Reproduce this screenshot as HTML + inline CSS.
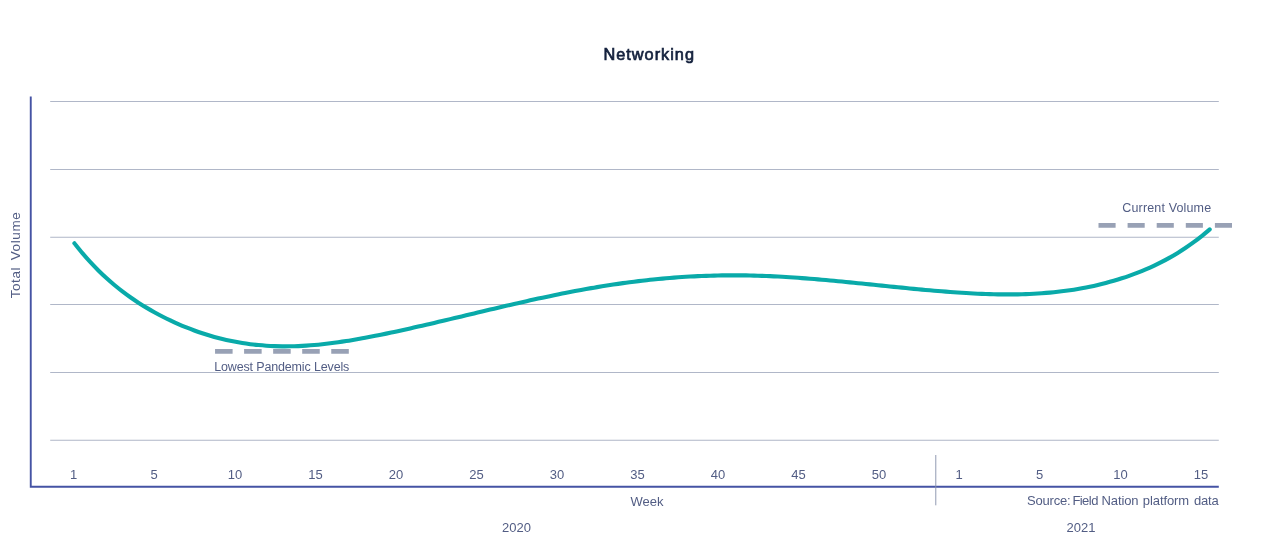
<!DOCTYPE html>
<html lang="en"><head><meta charset="utf-8"><title>Networking</title>
<style>
html,body{margin:0;padding:0;background:#fff;}
body{width:1267px;height:553px;overflow:hidden;}
svg{display:block;}
text{font-family:"Liberation Sans",sans-serif;fill:#525d84;font-size:13px;}
.t{text-anchor:middle;}
</style></head><body>
<svg width="1267" height="553" viewBox="0 0 1267 553">
<rect width="1267" height="553" fill="#fff"/>
<g fill="#b0b7c8"><rect x="50.2" y="101" width="1168.6" height="1"/><rect x="50.2" y="169" width="1168.6" height="1"/><rect x="50.2" y="236.75" width="1168.6" height="1"/><rect x="50.2" y="304" width="1168.6" height="1"/><rect x="50.2" y="372" width="1168.6" height="1"/><rect x="50.2" y="439.75" width="1168.6" height="1"/></g>
<path d="M29.8,96.5h1.9v389.3h1187.1v1.95h-1189z" fill="#4553a4"/>
<rect x="935" y="455" width="1.4" height="50.3" fill="#8590aa" fill-opacity="0.65"/>
<text x="603.5" y="60" style="font-size:16.3px;fill:#14213d;stroke:#14213d;stroke-width:0.7px;letter-spacing:1px">Networking</text>
<text transform="translate(19.7,255) rotate(-90)" class="t" style="font-size:13.5px;letter-spacing:0.6px;word-spacing:2.2px">Total Volume</text>
<g class="t"><text x="73.7" y="479">1</text><text x="154.2" y="479">5</text><text x="235.0" y="479">10</text><text x="315.5" y="479">15</text><text x="396.0" y="479">20</text><text x="476.5" y="479">25</text><text x="557.0" y="479">30</text><text x="637.5" y="479">35</text><text x="718.0" y="479">40</text><text x="798.5" y="479">45</text><text x="879.0" y="479">50</text><text x="959.2" y="479">1</text><text x="1039.7" y="479">5</text><text x="1120.5" y="479">10</text><text x="1201.0" y="479">15</text></g>
<text x="647" y="506" class="t">Week</text>
<text x="516.5" y="532" class="t">2020</text>
<text x="1081" y="532" class="t">2021</text>
<text y="505" style="letter-spacing:-0.2px"><tspan x="1027">Source: </tspan><tspan x="1072.4" style="letter-spacing:-0.55px">Field </tspan><tspan x="1101.5" style="letter-spacing:-0.1px">Nation </tspan><tspan x="1142.8" style="letter-spacing:-0.08px">platform </tspan><tspan x="1194">data</tspan></text>
<path d="M215.05,351.35H349" stroke="#98a1b5" stroke-width="4.9" stroke-dasharray="17.55 11.5" fill="none"/>
<path d="M1098.5,225.3H1232" stroke="#98a1b5" stroke-width="4.8" stroke-dasharray="17.1 12" fill="none"/>
<text x="214.2" y="371" style="font-size:12.5px;letter-spacing:-0.15px">Lowest Pandemic Levels</text>
<text x="1122.3" y="212.3" style="font-size:12.5px;letter-spacing:0.15px">Current Volume</text>
<path d="M74.40,243.29C75.73,244.93 79.73,249.98 82.40,253.12C85.06,256.27 87.73,259.27 90.39,262.16C93.06,265.05 95.72,267.81 98.39,270.46C101.05,273.11 103.72,275.63 106.38,278.06C109.05,280.49 111.71,282.81 114.38,285.04C117.04,287.26 119.71,289.38 122.37,291.43C125.04,293.47 127.70,295.41 130.37,297.29C133.03,299.16 135.70,300.95 138.36,302.67C141.03,304.39 143.69,306.04 146.36,307.63C149.02,309.22 151.69,310.74 154.35,312.22C157.02,313.69 159.68,315.11 162.35,316.48C165.01,317.85 167.68,319.17 170.34,320.44C173.01,321.71 175.67,322.93 178.34,324.09C181.00,325.26 183.67,326.38 186.33,327.45C189.00,328.52 191.66,329.54 194.33,330.51C196.99,331.48 199.66,332.41 202.32,333.28C204.99,334.16 207.65,334.99 210.32,335.78C212.98,336.56 215.65,337.30 218.31,337.99C220.98,338.68 223.64,339.33 226.31,339.93C228.97,340.53 231.64,341.09 234.30,341.61C236.97,342.12 239.63,342.59 242.30,343.02C244.96,343.45 247.63,343.83 250.29,344.18C252.96,344.52 255.62,344.82 258.29,345.08C260.95,345.34 263.62,345.56 266.28,345.74C268.95,345.92 271.61,346.06 274.28,346.16C276.94,346.26 279.61,346.32 282.27,346.35C284.94,346.38 287.60,346.36 290.27,346.32C292.93,346.27 295.60,346.19 298.26,346.08C300.93,345.97 303.59,345.83 306.26,345.66C308.92,345.48 311.59,345.28 314.25,345.05C316.92,344.82 319.58,344.56 322.25,344.27C324.91,343.99 327.58,343.68 330.24,343.34C332.91,343.01 335.57,342.65 338.24,342.27C340.90,341.90 343.57,341.50 346.23,341.08C348.90,340.66 351.56,340.22 354.23,339.76C356.89,339.31 359.56,338.84 362.22,338.35C364.89,337.86 367.55,337.36 370.22,336.84C372.88,336.33 375.55,335.80 378.21,335.26C380.88,334.73 383.54,334.18 386.21,333.62C388.87,333.06 391.54,332.50 394.20,331.92C396.87,331.35 399.53,330.77 402.20,330.19C404.86,329.60 407.53,329.01 410.19,328.41C412.86,327.81 415.52,327.21 418.19,326.60C420.85,325.99 423.52,325.38 426.18,324.77C428.85,324.15 431.51,323.53 434.18,322.90C436.84,322.28 439.51,321.65 442.17,321.02C444.84,320.40 447.50,319.76 450.17,319.13C452.83,318.50 455.50,317.86 458.16,317.22C460.83,316.59 463.49,315.95 466.16,315.31C468.82,314.68 471.49,314.04 474.15,313.40C476.82,312.77 479.48,312.13 482.15,311.49C484.81,310.86 487.48,310.22 490.14,309.59C492.81,308.96 495.47,308.33 498.14,307.70C500.80,307.08 503.47,306.45 506.13,305.83C508.80,305.21 511.46,304.60 514.13,303.98C516.79,303.37 519.46,302.76 522.12,302.16C524.79,301.56 527.45,300.96 530.12,300.37C532.78,299.78 535.45,299.19 538.11,298.61C540.78,298.03 543.44,297.46 546.11,296.89C548.77,296.33 551.44,295.77 554.10,295.22C556.77,294.67 559.43,294.13 562.10,293.60C564.76,293.06 567.43,292.54 570.09,292.02C572.76,291.51 575.42,291.00 578.09,290.51C580.75,290.01 583.42,289.52 586.08,289.05C588.75,288.57 591.41,288.10 594.08,287.65C596.74,287.19 599.41,286.74 602.07,286.31C604.74,285.88 607.40,285.45 610.07,285.04C612.73,284.63 615.40,284.23 618.06,283.85C620.73,283.46 623.39,283.08 626.06,282.72C628.72,282.36 631.39,282.01 634.05,281.67C636.72,281.34 639.38,281.02 642.05,280.71C644.72,280.40 647.38,280.10 650.05,279.82C652.71,279.53 655.38,279.26 658.04,279.01C660.71,278.75 663.37,278.51 666.04,278.28C668.70,278.05 671.37,277.83 674.03,277.62C676.70,277.42 679.36,277.23 682.03,277.05C684.69,276.88 687.36,276.71 690.02,276.56C692.69,276.41 695.35,276.28 698.02,276.16C700.68,276.03 703.35,275.92 706.01,275.83C708.68,275.73 711.34,275.65 714.01,275.58C716.67,275.51 719.34,275.46 722.00,275.42C724.67,275.38 727.33,275.35 730.00,275.34C732.66,275.32 735.33,275.32 737.99,275.34C740.66,275.35 743.32,275.38 745.99,275.42C748.65,275.46 751.32,275.52 753.98,275.59C756.65,275.66 759.31,275.74 761.98,275.83C764.64,275.93 767.31,276.04 769.97,276.16C772.64,276.28 775.30,276.41 777.97,276.55C780.63,276.69 783.30,276.84 785.96,277.01C788.63,277.17 791.29,277.34 793.96,277.52C796.62,277.71 799.29,277.90 801.95,278.10C804.62,278.30 807.28,278.50 809.95,278.72C812.61,278.93 815.28,279.15 817.94,279.38C820.61,279.61 823.27,279.84 825.94,280.08C828.60,280.32 831.27,280.57 833.93,280.82C836.60,281.07 839.26,281.33 841.93,281.58C844.59,281.84 847.26,282.11 849.92,282.37C852.59,282.64 855.25,282.90 857.92,283.17C860.58,283.44 863.25,283.72 865.91,283.99C868.58,284.26 871.24,284.54 873.91,284.81C876.57,285.09 879.24,285.36 881.90,285.64C884.57,285.91 887.23,286.18 889.90,286.46C892.56,286.73 895.23,287.00 897.89,287.27C900.56,287.53 903.22,287.80 905.89,288.06C908.55,288.33 911.22,288.58 913.88,288.84C916.55,289.09 919.21,289.35 921.88,289.59C924.54,289.84 927.21,290.08 929.87,290.31C932.54,290.55 935.20,290.78 937.87,291.00C940.53,291.22 943.20,291.43 945.86,291.64C948.53,291.85 951.19,292.05 953.86,292.24C956.52,292.43 959.19,292.61 961.85,292.78C964.52,292.96 967.18,293.12 969.85,293.27C972.51,293.42 975.18,293.55 977.84,293.68C980.51,293.80 983.17,293.91 985.84,294.01C988.50,294.10 991.17,294.18 993.83,294.25C996.50,294.31 999.16,294.36 1001.83,294.39C1004.49,294.41 1007.16,294.43 1009.82,294.42C1012.49,294.41 1015.15,294.38 1017.82,294.33C1020.48,294.28 1023.15,294.21 1025.81,294.12C1028.48,294.02 1031.14,293.91 1033.81,293.77C1036.47,293.63 1039.14,293.46 1041.80,293.27C1044.47,293.08 1047.13,292.87 1049.80,292.62C1052.46,292.38 1055.13,292.11 1057.79,291.81C1060.46,291.51 1063.12,291.18 1065.79,290.83C1068.45,290.47 1071.12,290.08 1073.78,289.66C1076.45,289.24 1079.11,288.79 1081.78,288.30C1084.44,287.81 1087.11,287.30 1089.77,286.74C1092.44,286.19 1095.10,285.60 1097.77,284.97C1100.43,284.35 1103.10,283.68 1105.76,282.98C1108.43,282.28 1111.09,281.55 1113.76,280.77C1116.42,279.99 1119.09,279.18 1121.75,278.32C1124.42,277.46 1127.08,276.56 1129.75,275.62C1132.41,274.68 1135.08,273.69 1137.74,272.66C1140.41,271.63 1143.07,270.55 1145.74,269.42C1148.40,268.28 1151.07,267.10 1153.73,265.85C1156.40,264.61 1159.06,263.31 1161.73,261.94C1164.39,260.58 1167.06,259.15 1169.72,257.65C1172.39,256.15 1175.05,254.59 1177.72,252.95C1180.38,251.31 1183.05,249.60 1185.71,247.81C1188.38,246.01 1191.04,244.14 1193.71,242.19C1196.37,240.23 1199.04,238.19 1201.70,236.06C1204.37,233.93 1208.37,230.51 1209.70,229.40" fill="none" stroke="#09aaa9" stroke-width="4.1" stroke-linecap="round" stroke-linejoin="round"/>
</svg>
</body></html>
